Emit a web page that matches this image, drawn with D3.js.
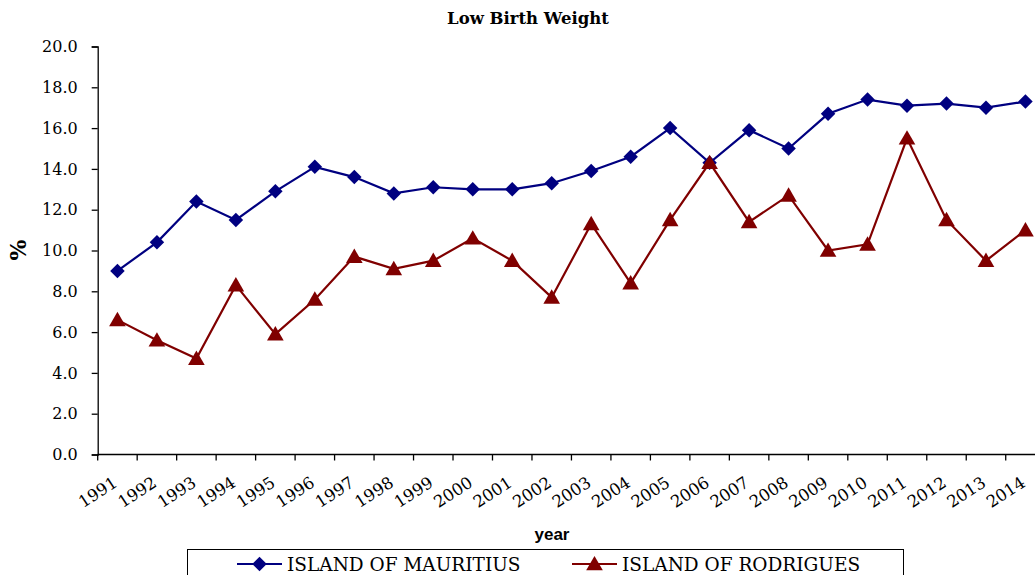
<!DOCTYPE html>
<html>
<meta charset="utf-8">
<head>
  <script src="https://d3js.org/d3.v7.min.js"></script>
  <style>
    body { margin: 0; background: #fff; }
    .serif { font-family: "DejaVu Serif", serif; }
    .sans { font-family: "Liberation Sans", Arial, sans-serif; }
    .tick text { font-family: "DejaVu Serif", serif; font-size: 16px; fill: #000; }
    .domain, .tick line { stroke: #000; stroke-width: 1.3px; }
  </style>
</head>
<body>
<div id="chart"></div>
<script>
  var years = ["1991","1992","1993","1994","1995","1996","1997","1998","1999","2000","2001","2002",
               "2003","2004","2005","2006","2007","2008","2009","2010","2011","2012","2013","2014"];
  var mauritius = [9.0, 10.4, 12.4, 11.5, 12.9, 14.1, 13.6, 12.8, 13.1, 13.0, 13.0, 13.3,
                   13.9, 14.6, 16.0, 14.3, 15.9, 15.0, 16.7, 17.4, 17.1, 17.2, 17.0, 17.3];
  var rodrigues = [6.6, 5.6, 4.7, 8.3, 5.9, 7.6, 9.7, 9.1, 9.5, 10.6, 9.5, 7.7,
                   11.3, 8.4, 11.5, 14.3, 11.4, 12.7, 10.0, 10.3, 15.5, 11.5, 9.5, 11.0];
  var yTicks = [0, 2, 4, 6, 8, 10, 12, 14, 16, 18, 20];

  var width = 1035, height = 575;
  var svg = d3.select("#chart").append("svg")
      .attr("width", width).attr("height", height);

  var x = d3.scaleBand().domain(years).range([97.7, 1045.2]);
  var y = d3.scaleLinear().domain([0, 20]).range([454.5, 46.5]);

  // title
  svg.append("text")
      .attr("class", "serif")
      .attr("x", 528).attr("y", 24)
      .attr("text-anchor", "middle")
      .style("font-size", "16.5px").style("font-weight", "bold")
      .text("Low Birth Weight");

  // y axis
  svg.append("g")
      .attr("transform", "translate(" + 97.7 + ",0)")
      .call(d3.axisLeft(y).tickValues(yTicks).tickFormat(d3.format(".1f")).tickSize(6).tickPadding(14));

  // x axis, ticks on band edges
  var xg = svg.append("g")
      .attr("transform", "translate(0," + 454.5 + ")");
  xg.append("line").attr("class", "domain")
      .attr("x1", 97.7).attr("x2", 1045).attr("y1", 0).attr("y2", 0);
  xg.selectAll(".xt").data(years).enter().append("line")
      .attr("class", "domain")
      .attr("x1", function(d) { return x(d); }).attr("x2", function(d) { return x(d); })
      .attr("y1", 0).attr("y2", 6);
  xg.selectAll(".xl").data(years).enter().append("text")
      .attr("class", "serif")
      .attr("transform", function(d) {
        return "translate(" + (x(d) + x.bandwidth() / 2 + 1) + ",31) rotate(-33)";
      })
      .attr("text-anchor", "end")
      .style("font-size", "16.5px")
      .text(function(d) { return d; });

  // axis titles
  svg.append("text")
      .attr("class", "sans")
      .attr("x", 552).attr("y", 540)
      .attr("text-anchor", "middle")
      .style("font-size", "17px").style("font-weight", "bold")
      .text("year");
  svg.append("text")
      .attr("class", "serif")
      .attr("transform", "translate(26,250) rotate(-90)")
      .attr("text-anchor", "middle")
      .style("font-size", "22px").style("font-weight", "bold")
      .text("%");

  var diamond = d3.symbol().type(d3.symbolSquare).size(105);
  var tri = d3.symbol().type(d3.symbolTriangle).size(120);
  var series = [
    { name: "ISLAND OF MAURITIUS", values: mauritius, color: "#000080", sym: diamond, rot: 45, dy: 0 },
    { name: "ISLAND OF RODRIGUES", values: rodrigues, color: "#800000", sym: tri, rot: 0, dy: 1.5 }
  ];

  var line = d3.line()
      .x(function(d, i) { return x(years[i]) + x.bandwidth() / 2; })
      .y(function(d) { return y(d); });

  series.forEach(function(s) {
    svg.append("path")
        .datum(s.values)
        .attr("fill", "none")
        .attr("stroke", s.color)
        .attr("stroke-width", 2.2)
        .attr("d", line);
    svg.selectAll(null).data(s.values).enter().append("path")
        .attr("d", s.sym)
        .attr("fill", s.color)
        .attr("transform", function(d, i) {
          return "translate(" + (x(years[i]) + x.bandwidth() / 2) + "," + (y(d) + s.dy) + ") rotate(" + s.rot + ")";
        });
  });

  // legend
  var leg = svg.append("g");
  leg.append("rect")
      .attr("x", 187.5).attr("y", 549.5).attr("width", 716).attr("height", 40)
      .attr("fill", "#fff").attr("stroke", "#000").attr("stroke-width", 1);
  var legX = [237, 572];
  series.forEach(function(s, i) {
    var g = leg.append("g").attr("transform", "translate(" + legX[i] + ",564)");
    g.append("line").attr("x1", 0).attr("x2", 45).attr("y1", 0).attr("y2", 0)
        .attr("stroke", s.color).attr("stroke-width", 2.2);
    g.append("path").attr("d", s.sym)
        .attr("fill", s.color).attr("transform", "translate(22.5," + s.dy + ") rotate(" + s.rot + ")");
    g.append("text").attr("class", "serif").attr("x", 50).attr("y", 7)
        .style("font-size", "18.5px")
        .text(s.name);
  });
</script>
</body>
</html>
